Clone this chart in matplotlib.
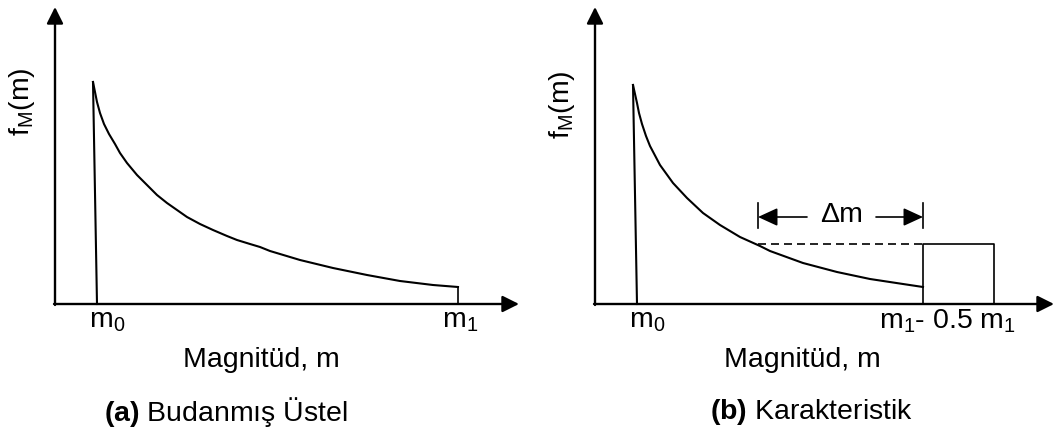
import matplotlib
matplotlib.use("Agg")
import matplotlib.pyplot as plt

plt.rcParams['font.family'] = ['Liberation Sans', 'DejaVu Sans']
plt.rcParams['mathtext.fontset'] = 'custom'
plt.rcParams['mathtext.rm'] = 'Liberation Sans'
plt.rcParams['mathtext.bf'] = 'Liberation Sans:bold'

# curve values (arbitrary units, origin at the axes corner)
m_a = [38, 40, 42, 45, 49, 54, 60, 65, 72, 82, 92, 102, 112, 122, 132, 145, 158,
       172, 182, 195, 205, 215, 245, 278, 312, 345, 378, 403]
f_a = [222, 212, 202, 191, 180, 170, 160, 151, 141, 129, 119, 109, 101, 94, 87, 80, 74,
       68, 64, 60, 57, 53, 44, 36, 29, 23, 19, 17]
m0_a, m1_a = 42, 403

m_b = [38, 40, 42, 44, 47, 51, 55, 65, 78, 92, 108, 125, 145, 165, 175, 208, 242,
       275, 308, 328]
f_b = [219, 210, 201, 191, 180, 168, 158, 139, 121, 106, 91, 79, 67, 58, 53, 41, 32,
       25, 20, 17]
m0_b, m1h_b, m1_b = 42, 328, 399
char_f = 60          # height of characteristic box
dm_start = 163       # start of the delta m interval

ylabel = r'f$_\mathregular{M}$(m)'
xlabel = 'Magnitüd, m'
fs = 20.5

fig = plt.figure(figsize=(10.57, 4.34), dpi=100)


def frame(ax, xmax, tip):
    ax.set_xlim(0, xmax)
    ax.set_ylim(0, 304)
    ax.axis('off')
    ap = dict(arrowstyle='-|>,head_length=0.5,head_width=0.25', mutation_scale=20,
              lw=1.7, color='k', shrinkA=0, shrinkB=0)
    ax.annotate('', xy=(0, 297), xytext=(0, -1), arrowprops=ap, annotation_clip=False)
    ax.annotate('', xy=(tip, 0), xytext=(-1, 0), arrowprops=ap, annotation_clip=False)


# (a)
ax1 = fig.add_axes([55 / 1057, 130 / 434, 480 / 1057, 304 / 434])
frame(ax1, 480, 464)
ax1.plot(m_a, f_a, color='k', lw=1.5, solid_joinstyle='round', clip_on=False)
ax1.plot([m_a[0], m0_a], [f_a[0], 0], color='k', lw=1.5, clip_on=False)
ax1.plot([m1_a, m1_a], [f_a[-1], 0], color='k', lw=1.2, clip_on=False)
ax1.text(52, -17, r'm$_\mathregular{0}$', fontsize=fs, ha='center', va='center')
ax1.text(405, -17, r'm$_\mathregular{1}$', fontsize=fs, ha='center', va='center')
ax1.text(206, -56, xlabel, fontsize=fs, ha='center', va='center')
ax1.text(171, -108, r'$\mathbf{(a)}$ Budanmış Üstel', fontsize=fs, ha='center', va='center')
ax1.text(-33, 202, ylabel, fontsize=fs, ha='center', va='center', rotation=90)

# (b)
ax2 = fig.add_axes([595 / 1057, 130 / 434, 462 / 1057, 304 / 434])
frame(ax2, 462, 459)
ax2.plot(m_b, f_b, color='k', lw=1.5, solid_joinstyle='round', clip_on=False)
ax2.plot([m_b[0], m0_b], [f_b[0], 0], color='k', lw=1.5, clip_on=False)
ax2.plot([m1h_b, m1h_b, m1_b, m1_b], [0, char_f, char_f, 0], color='k', lw=1.2)
ax2.plot([dm_start, m1h_b], [char_f, char_f], color='k', lw=1.2, ls=(0, (4.8, 3)))
for xv in (dm_start, m1h_b):
    ax2.plot([xv, xv], [76, 101], color='k', lw=1.2)
hp = dict(arrowstyle='-|>,head_length=0.5,head_width=0.23', mutation_scale=24,
          lw=1.2, color='k', shrinkA=0, shrinkB=0)
ax2.annotate('', xy=(dm_start, 87), xytext=(212, 87), arrowprops=hp)
ax2.annotate('', xy=(m1h_b, 87), xytext=(281, 87), arrowprops=hp)
ax2.text(247, 89, 'Δm', fontsize=fs, ha='center', va='center')
ax2.text(52, -17, r'm$_\mathregular{0}$', fontsize=fs, ha='center', va='center')
ax2.text(353, -17, r'm$_\mathregular{1}$- 0.5 m$_\mathregular{1}$', fontsize=fs,
         ha='center', va='center')
ax2.text(207, -56, xlabel, fontsize=fs, ha='center', va='center')
ax2.text(217, -108, r'$\mathbf{(b)}$ Karakteristik', fontsize=fs, ha='center', va='center')
ax2.text(-33, 199, ylabel, fontsize=fs, ha='center', va='center', rotation=90)

fig.savefig('out.png', dpi=100)
